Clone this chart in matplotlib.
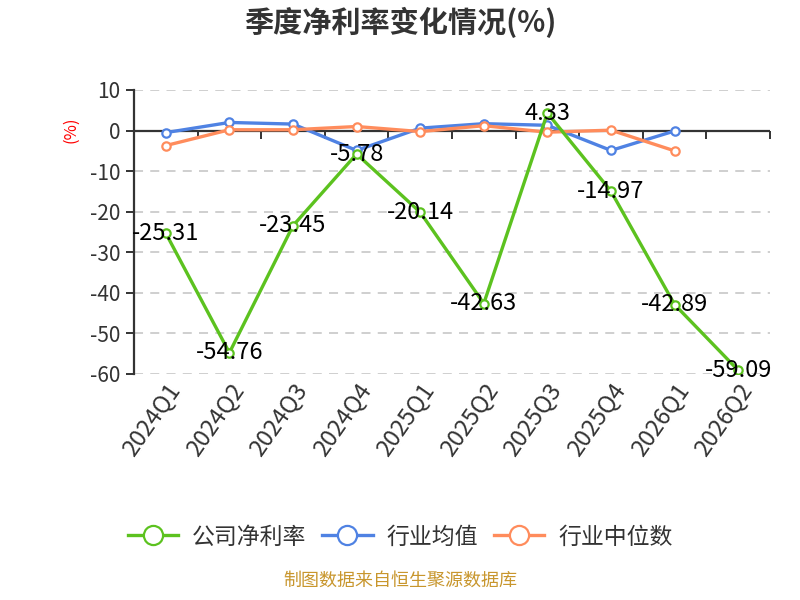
import matplotlib
matplotlib.use('Agg')
import matplotlib.pyplot as plt

plt.rcParams['font.family'] = ['Noto Sans CJK SC', 'DejaVu Sans']
plt.rcParams['axes.unicode_minus'] = False

quarters = ['2024Q1', '2024Q2', '2024Q3', '2024Q4', '2025Q1',
            '2025Q2', '2025Q3', '2025Q4', '2026Q1', '2026Q2']
company = [-25.31, -54.76, -23.45, -5.78, -20.14, -42.63, 4.33, -14.97, -42.89, -59.09]
ind_avg = [-0.5, 2.0, 1.6, -4.9, 0.6, 1.7, 1.3, -4.9, -0.1]
ind_med = [-3.7, 0.2, 0.2, 1.0, -0.25, 1.2, -0.4, 0.1, -5.0]
yticks = [10, 0, -10, -20, -30, -40, -50, -60]

c_green = '#5cc21f'
c_blue = '#4f82e3'
c_orange = '#ff8c5c'
txt = '#333333'

fig = plt.figure(figsize=(8, 6), dpi=100)
ax = fig.add_axes([0.1675, 0.3767, 0.795, 0.4733])

x = list(range(len(quarters)))
mk = dict(marker='o', markersize=6, markerfacecolor='white', markeredgewidth=1.6)
ax.plot(x[:len(ind_avg)], ind_avg, color=c_blue, lw=2.4, zorder=3, label='行业均值', **mk)
ax.plot(x[:len(ind_med)], ind_med, color=c_orange, lw=2.4, zorder=4, label='行业中位数', **mk)
ax.plot(x, company, color=c_green, lw=2.4, zorder=5, label='公司净利率', **mk)

for xi, v in zip(x, company):
    ax.text(xi, v, f'{v:.2f}', ha='center', va='center', fontsize=17, color='black', zorder=6)

ax.set_xlim(-0.5, len(quarters) - 0.5)
ax.set_ylim(-60, 10)
ax.set_yticks(yticks)
ax.set_yticklabels([str(t) for t in yticks])
ax.grid(axis='y', color='#cccccc', linestyle=(0, (5, 4)), linewidth=1.3)
ax.set_axisbelow(True)
for tk in ax.yaxis.get_major_ticks():
    if tk.get_loc() == 0:
        tk.gridline.set_visible(False)

for s in ['top', 'right', 'bottom']:
    ax.spines[s].set_visible(False)
ax.spines['left'].set_color(txt)
ax.spines['left'].set_linewidth(1.6)
ax.tick_params(axis='y', colors=txt, labelsize=15, length=6, width=1.4, pad=4)
ax.tick_params(axis='x', length=0, labelsize=17, colors=txt, pad=4)
ax.set_xticks(x)
ax.set_xticklabels(quarters, rotation=55, ha='right', rotation_mode='anchor')

# zero line with category boundary ticks
ax.axhline(0, color=txt, lw=1.6, zorder=2)
sec = ax.secondary_xaxis(60 / 70)
for s in ['top', 'left', 'right', 'bottom']:
    sec.spines[s].set_visible(False)
sec.xaxis.set_ticks_position('bottom')
sec.set_xticks([i - 0.5 for i in range(len(quarters) + 1)])
sec.set_xticklabels([])
sec.tick_params(axis='x', direction='out', length=6, width=1.4, colors=txt,
                labelbottom=False, labeltop=False)

ax.text(-0.1, 0.86, '(%)', transform=ax.transAxes, rotation=90, color='red',
        fontsize=12, ha='center', va='center')

fig.text(0.5, 0.962, '季度净利率变化情况(%)', ha='center', va='center',
         fontsize=21, fontweight='bold', color=txt)

handles, labels = ax.get_legend_handles_labels()
order = [2, 0, 1]
leg = fig.legend([handles[i] for i in order], [labels[i] for i in order],
                 loc='center', bbox_to_anchor=(0.5, 0.105), ncol=3, frameon=False,
                 fontsize=16.5, handlelength=2.2, columnspacing=0.7, handletextpad=0.6,
                 markerscale=2.3)
for t in leg.get_texts():
    t.set_color(txt)

fig.text(0.5, 0.018, '制图数据来自恒生聚源数据库', ha='center', va='bottom',
         fontsize=13, color='#c8962d')

fig.savefig('out.png', dpi=100)
